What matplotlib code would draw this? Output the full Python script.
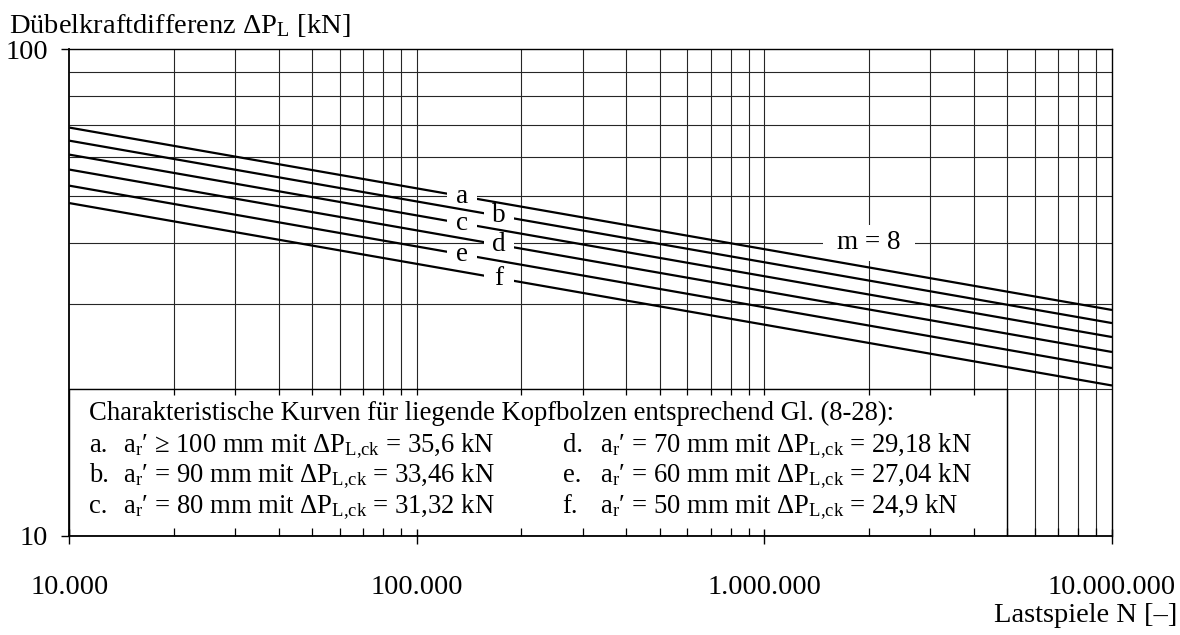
import numpy as np
import matplotlib
matplotlib.use("Agg")
import matplotlib.pyplot as plt
from matplotlib.ticker import LogLocator, NullFormatter
from matplotlib.patches import Rectangle
from matplotlib.markers import TICKDOWN
from matplotlib.transforms import ScaledTranslation

plt.rcParams['font.family'] = ['Liberation Serif', 'DejaVu Serif']
plt.rcParams['mathtext.fontset'] = 'custom'
plt.rcParams['mathtext.rm'] = 'Liberation Serif'
plt.rcParams['mathtext.it'] = 'Liberation Serif:italic'
plt.rcParams['mathtext.bf'] = 'Liberation Serif:bold'

# ---- data -------------------------------------------------------------
curve_ids = ['a', 'b', 'c', 'd', 'e', 'f']
spacing_mm = [100, 90, 80, 70, 60, 50]          # a_r'
dP_ck = [35.6, 33.46, 31.32, 29.18, 27.04, 24.9]  # kN at N_ck
N_ck = 2.0e6                                      # reference number of cycles
m_slope = 8
N_range = [1.0e4, 1.0e7]
P_range = [10, 100]
x_ticks = [1e4, 1e5, 1e6, 1e7]
x_ticklabels = ['10.000', '100.000', '1.000.000', '10.000.000']
y_ticks = [10, 100]
y_ticklabels = ['10', '100']

# ---- layout -----------------------------------------------------------
W, H, DPI = 1180, 635, 100
ax_left, ax_right, ax_top, ax_bottom = 69.3, 1112.0, 49.3, 535.7
box_right, box_top = 5.0e6, 20          # white legend panel
label_N = [1.35e5, 1.72e5, 1.35e5, 1.72e5, 1.35e5, 1.72e5]
grid_color = '#262626'
fs_axis = 20.5
fs_text = 19.2

fig = plt.figure(figsize=(W / DPI, H / DPI), dpi=DPI)
ax = fig.add_axes([ax_left / W, 1 - ax_bottom / H,
                   (ax_right - ax_left) / W, (ax_bottom - ax_top) / H])
ax.set_xscale('log')
ax.set_yscale('log')
ax.set_xlim(N_range)
ax.set_ylim(P_range)

ax.set_xticks(x_ticks, x_ticklabels)
ax.set_yticks(y_ticks, y_ticklabels)
ax.xaxis.set_minor_locator(LogLocator(base=10, subs=np.arange(2, 10), numticks=100))
ax.yaxis.set_minor_locator(LogLocator(base=10, subs=np.arange(2, 10), numticks=100))
ax.xaxis.set_minor_formatter(NullFormatter())
ax.yaxis.set_minor_formatter(NullFormatter())

ax.tick_params(axis='x', which='major', direction='inout', length=10.8, width=1.0,
               pad=22.9, labelsize=fs_axis, colors='black')
ax.tick_params(axis='x', which='minor', direction='in', length=5.8, width=0.9)
ax.tick_params(axis='y', which='major', direction='out', length=5.8, width=1.0,
               pad=9.4, labelsize=fs_axis)
ax.tick_params(axis='y', which='minor', length=0)
ax.set_axisbelow(False)

for side in ['left', 'bottom']:
    ax.spines[side].set_linewidth(1.3)
for side in ['top', 'right']:
    ax.spines[side].set_linewidth(1.0)

# grid drawn from the axis locators
xg = np.sort(np.concatenate([ax.xaxis.get_majorticklocs(), ax.xaxis.get_minorticklocs()]))
xg = xg[(xg > N_range[0]) & (xg < N_range[1])]
yg = np.sort(np.concatenate([ax.yaxis.get_majorticklocs(), ax.yaxis.get_minorticklocs()]))
yg = yg[(yg > P_range[0]) & (yg < P_range[1])]
ax.vlines(xg, P_range[0], P_range[1], colors=grid_color, lw=0.8, zorder=0.5)
ax.hlines(yg, N_range[0], N_range[1], colors=grid_color, lw=0.8, zorder=0.5)

# legend panel with its own tick marks along the upper edge
ax.add_patch(Rectangle((N_range[0], P_range[0]), box_right - N_range[0], box_top - P_range[0],
                       facecolor='white', edgecolor='black', lw=1.0, zorder=1))
xt = xg[xg < box_right]
ax.plot(xt, np.full(len(xt), box_top), ls='none', marker=TICKDOWN, ms=4.5,
        mew=0.9, color='black', zorder=2.6)


def blank(x, y, w_px, h_px, z):
    """White patch of fixed pixel size centred on a data point."""
    tr = fig.dpi_scale_trans + ScaledTranslation(x, y, ax.transData)
    r = Rectangle((-w_px / 2 / DPI, -h_px / 2 / DPI), w_px / DPI, h_px / DPI,
                  transform=tr, facecolor='white', edgecolor='none', zorder=z)
    ax.add_artist(r)


# S-N curves: dP = dP_ck * (N_ck / N)^(1/m)
N_end = np.array(N_range)
for cid, pck, nl in zip(curve_ids, dP_ck, label_N):
    ax.plot(N_end, pck * (N_ck / N_end) ** (1.0 / m_slope), color='black', lw=1.6,
            solid_capstyle='butt', zorder=2)
    yl = pck * (N_ck / nl) ** (1.0 / m_slope)
    blank(nl, yl, 30, 18, 2.2)
    ax.text(nl, yl, cid, ha='center', va='center', fontsize=fs_text + 0.3, zorder=3)

# slope annotation
blank(N_ck, 40, 92, 36, 1.8)
ax.text(N_ck, 40, f'm = {m_slope}', ha='center', va='center', fontsize=fs_text + 0.3, zorder=3)


def px(x, y):
    return x / W, 1 - y / H


# axis titles
fig.text(*px(9, 33), r'Dübelkraftdifferenz ΔP$_\mathrm{L}$ [kN]', ha='left', va='baseline',
         fontsize=fs_axis)
fig.text(*px(1177, 622), 'Lastspiele N [–]', ha='right', va='baseline', fontsize=fs_axis)

# legend text
fig.text(*px(89.3, 420), 'Charakteristische Kurven für liegende Kopfbolzen entsprechend Gl. (8-28):',
         ha='left', va='baseline', fontsize=fs_text)


def fmt(v):
    return f'{v:g}'.replace('.', ',')


baselines = [451.7, 482.0, 512.7]
for i, (cid, a_mm, pck) in enumerate(zip(curve_ids, spacing_mm, dP_ck)):
    col, row = divmod(i, 3)
    x0 = 89.3 if col == 0 else 562.7
    x1 = 123.3 if col == 0 else 600.0
    rel = '≥' if i == 0 else '='
    fig.text(*px(x0, baselines[row]), f'{cid}.', ha='left', va='baseline', fontsize=fs_text)
    fig.text(*px(x1, baselines[row]),
             r'a$_\mathrm{r}$′ ' + rel + f' {a_mm} mm mit ΔP' + r'$_\mathrm{L{,}ck}$'
             + f' = {fmt(pck)} kN',
             ha='left', va='baseline', fontsize=fs_text)

fig.savefig('out.png', dpi=DPI)
